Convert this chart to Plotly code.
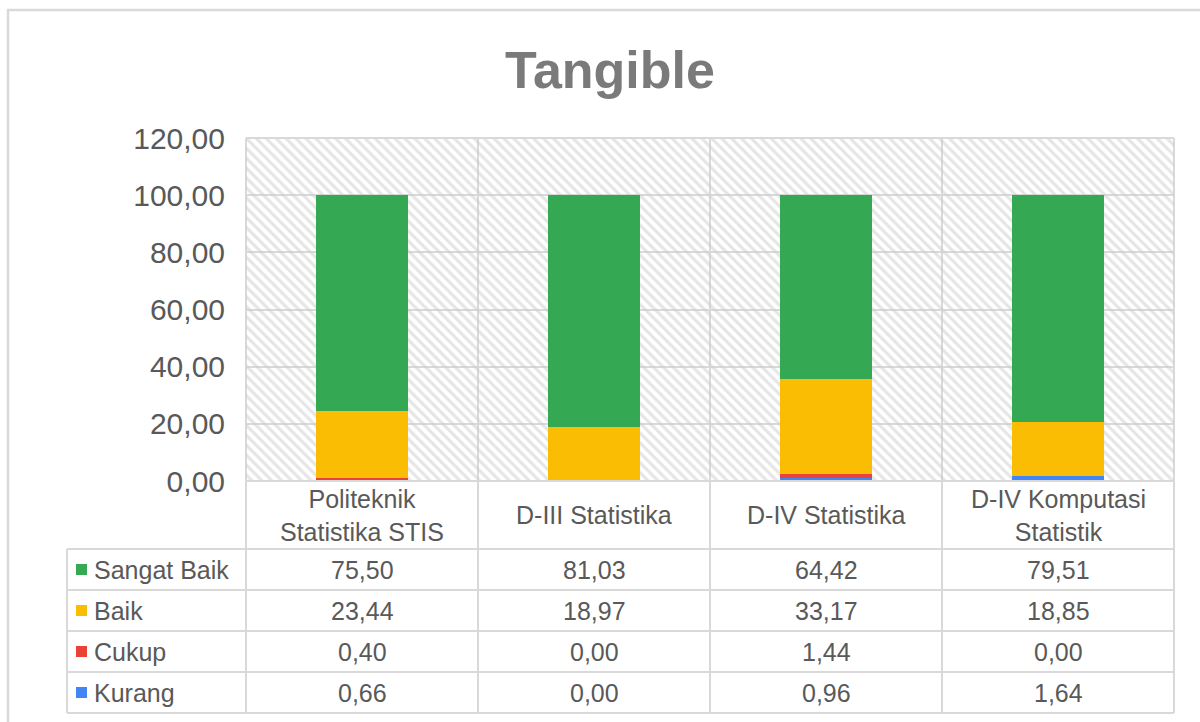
import plotly.graph_objects as go

# ---- data ----
categories = ["Politeknik<br>Statistika STIS", "D-III Statistika", "D-IV Statistika", "D-IV Komputasi<br>Statistik"]
sangat_baik = [75.50, 81.03, 64.42, 79.51]
baik = [23.44, 18.97, 33.17, 18.85]
cukup = [0.40, 0.00, 1.44, 0.00]
kurang = [0.66, 0.00, 0.96, 1.64]
series_names = ["Sangat Baik", "Baik", "Cukup", "Kurang"]
series_values = [sangat_baik, baik, cukup, kurang]
series_colors = ["#34A853", "#FBBC04", "#EA4335", "#4285F4"]
y_max = 120
y_dtick = 20
title_text = "Tangible"

# ---- layout geometry (pixels) ----
W, H = 1200, 722
PL, PR, PT, PB = 246, 1174, 138, 481
ROW_TOP = 549
ROW_H = 41
TABLE_LEFT = 67
GRID = "#d9d9d9"
TXT = "#595959"
FONT = "Liberation Sans, Arial, sans-serif"


def px(x):
    return (x - PL) / (PR - PL)


def py(y):
    return (PB - y) / (PB - PT)


fig = go.Figure()

# hatched plot-area background (on base axis, drawn beneath the data bars)
fig.add_trace(go.Bar(
    x=categories, y=[y_max] * len(categories), width=1,
    marker=dict(color="rgba(0,0,0,0)", line=dict(width=0),
                pattern=dict(shape="\\", fgcolor="#cccccc", bgcolor="rgba(0,0,0,0)",
                             size=7, solidity=0.45, fillmode="overlay")),
    hoverinfo="skip", showlegend=False, xaxis="x", yaxis="y"))

# data bars, stacked bottom to top: Kurang, Cukup, Baik, Sangat Baik
for name, vals, col in reversed(list(zip(series_names, series_values, series_colors))):
    fig.add_trace(go.Bar(
        x=categories, y=vals, name=name, width=0.4,
        marker=dict(color=col, line=dict(width=0)),
        showlegend=False, xaxis="x2", yaxis="y"))

shapes = []
line = dict(color=GRID, width=2)
# plot top / bottom borders
shapes.append(dict(type="line", xref="paper", yref="paper", x0=0, x1=1, y0=1, y1=1, line=line, layer="above"))
shapes.append(dict(type="line", xref="paper", yref="paper", x0=0, x1=1, y0=0, y1=0, line=line, layer="above"))
# column separators (plot area + table)
n = len(categories)
for k in range(n + 1):
    xk = k / n
    shapes.append(dict(type="line", xref="paper", yref="paper", x0=xk, x1=xk,
                       y0=py(ROW_TOP + ROW_H * len(series_names)), y1=1, line=line, layer="between"))
# table left border
shapes.append(dict(type="line", xref="paper", yref="paper", x0=px(TABLE_LEFT), x1=px(TABLE_LEFT),
                   y0=py(ROW_TOP + ROW_H * len(series_names)), y1=py(ROW_TOP), line=line))
# table row lines
for r in range(len(series_names) + 1):
    yy = py(ROW_TOP + ROW_H * r)
    shapes.append(dict(type="line", xref="paper", yref="paper", x0=px(TABLE_LEFT), x1=1,
                       y0=yy, y1=yy, line=line))
# outer chart border
shapes.append(dict(type="rect", xref="paper", yref="paper", x0=px(8), x1=px(1230),
                   y0=py(760), y1=py(10), line=dict(color=GRID, width=2.5)))

annotations = []
# title
annotations.append(dict(text=title_text, xref="paper", yref="paper", x=px(610), y=py(70),
                        xanchor="center", yanchor="middle", showarrow=False,
                        font=dict(family=FONT, size=52, color="#7a7a7a", weight="bold")))
# category labels in first table row
for k, cat in enumerate(categories):
    annotations.append(dict(text=cat, xref="paper", yref="paper", x=(k + 0.5) / n, y=py((PB + ROW_TOP) / 2),
                            xanchor="center", yanchor="middle", showarrow=False,
                            font=dict(family=FONT, size=25, color=TXT)))
# data rows
for r, (name, vals, col) in enumerate(zip(series_names, series_values, series_colors)):
    yc = ROW_TOP + ROW_H * r + ROW_H / 2
    shapes.append(dict(type="rect", xref="paper", yref="paper", x0=px(76), x1=px(87),
                       y0=py(yc + 5.5), y1=py(yc - 5.5), fillcolor=col, line=dict(width=0)))
    annotations.append(dict(text=name, xref="paper", yref="paper", x=px(92), y=py(yc),
                            xanchor="left", yanchor="middle", showarrow=False,
                            font=dict(family=FONT, size=25, color=TXT)))
    for k, v in enumerate(vals):
        annotations.append(dict(text=f"{v:.2f}".replace(".", ","), xref="paper", yref="paper",
                                x=(k + 0.5) / n, y=py(yc), xanchor="center", yanchor="middle",
                                showarrow=False, font=dict(family=FONT, size=25, color=TXT)))

fig.update_layout(
    width=W, height=H,
    margin=dict(l=PL, r=W - PR, t=PT, b=H - PB, pad=0),
    paper_bgcolor="white", plot_bgcolor="white",
    separators=",.",
    barmode="stack",
    showlegend=False,
    xaxis=dict(type="category", categoryarray=categories, range=[-0.5, n - 0.5],
               showticklabels=False, showgrid=False, zeroline=False, showline=False, ticks=""),
    xaxis2=dict(type="category", categoryarray=categories, range=[-0.5, n - 0.5], overlaying="x",
                visible=False, showgrid=False),
    yaxis=dict(range=[0, y_max], dtick=y_dtick, tick0=0, tickformat=".2f",
               showgrid=True, gridcolor=GRID, gridwidth=2, zeroline=False, showline=False,
               ticks="", ticklabelstandoff=20,
               tickfont=dict(family=FONT, size=30, color=TXT)),
    shapes=shapes,
    annotations=annotations,
)

fig.write_html("out.html")
